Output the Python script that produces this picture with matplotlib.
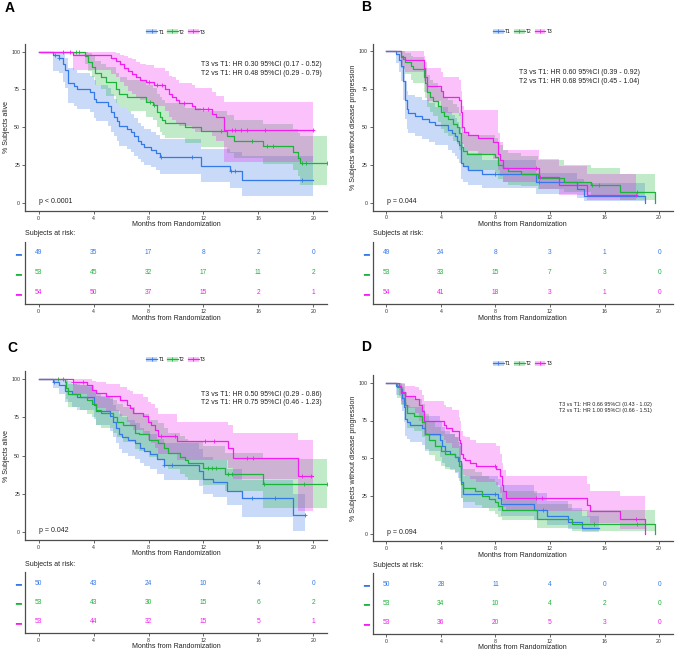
import numpy as np
import matplotlib
matplotlib.use("Agg")
import matplotlib.pyplot as plt
from matplotlib.patches import Patch
from matplotlib.lines import Line2D

plt.rcParams['font.family'] = ['Liberation Sans', 'DejaVu Sans']

groups = ["T1", "T2", "T3"]
colors = ["#3479E8", "#1DB33A", "#F21DF0"]
risk_times = [0, 4, 8, 12, 16, 20]

# ---------------- Panel A (overall survival) ----------------
A_T1_t = [0, 1.05, 1.5, 1.8, 1.95, 2.15, 2.55, 2.8, 3.7, 4.0, 4.2, 5.05, 5.3, 5.5, 5.7, 5.85, 6.4, 6.7, 6.95, 7.2, 7.45, 7.7, 8.2, 8.55, 8.8, 11.85, 13.9, 14.8, 20.0]
A_T1_s = [100, 98, 96, 92, 88, 79, 77, 75, 73, 69, 66.6, 64, 60, 57, 54, 51, 49, 47, 44, 41, 39, 37, 35, 33, 30.5, 24.5, 21, 15.5, 15.5]
A_T1_lo = [100, 87, 86, 80, 76, 66, 64, 62, 60, 56, 54, 51, 47, 44, 41, 38, 36, 34, 31, 29, 27, 25, 24, 22, 19, 14, 10, 5, 5]
A_T1_hi = [100, 100, 100, 99, 96, 89, 88, 86, 84, 81, 78, 76, 72, 69, 66, 63, 61, 59, 56, 53, 51, 49, 47, 45, 42, 36, 34, 31, 31]
A_T1_c = [1.2, 1.5, 8.9, 11.2, 14.0, 14.3, 19.2]

A_T2_t = [0, 3.35, 3.6, 3.85, 4.1, 4.5, 4.9, 5.65, 5.85, 6.4, 7.85, 8.3, 8.65, 8.85, 9.0, 9.2, 10.65, 11.85, 13.7, 14.2, 16.35, 18.55, 18.9, 19.05, 21.0]
A_T2_s = [100, 97, 93, 90, 86, 83, 80, 75, 72, 70, 67, 65, 60, 57, 55, 53, 50, 47.5, 44, 41, 37.5, 34, 30, 26.7, 26.7]
A_T2_lo = [100, 92, 87, 83, 78, 75, 71, 66, 63, 61, 57, 55, 50, 47, 45, 43, 40, 37, 33, 30, 26, 22, 18, 12, 12]
A_T2_hi = [100, 100, 99, 97, 94, 92, 90, 86, 83, 81, 78, 76, 72, 70, 68, 66, 63, 61, 58, 55, 52, 49, 46, 44, 44]
A_T2_c = [2.75, 2.95, 8.1, 8.4, 13.3, 15.5, 16.6, 17.1, 19.2, 19.5, 21.0]

A_T3_t = [0, 2.5, 5.3, 5.6, 5.9, 6.2, 6.5, 6.8, 7.1, 7.4, 7.8, 8.4, 9.2, 9.5, 9.7, 10.0, 10.2, 11.2, 11.4, 12.6, 12.9, 13.5, 20.0]
A_T3_s = [100, 98, 96, 94, 92, 89, 87, 85, 83, 81, 80, 78, 75.5, 72, 70, 68, 66, 64, 62, 59, 56.5, 48.5, 48.5]
A_T3_lo = [100, 88, 85, 83, 80, 77, 74, 72, 70, 68, 66, 64, 61, 57, 55, 53, 51, 49, 47, 44, 41, 27, 27]
A_T3_hi = [100, 100, 100, 99, 98, 97, 96, 95, 93, 92, 91, 89, 87, 84, 83, 81, 79, 78, 76, 73, 71, 67, 67]
A_T3_c = [1.75, 2.25, 8.0, 8.6, 9.0, 10.6, 12.0, 12.3, 14.1, 14.3, 14.7, 15.2, 16.5, 20.0]

A_risk = [[49, 35, 17, 8, 2, 0], [53, 45, 32, 17, 11, 2], [54, 50, 37, 15, 2, 1]]
A_hr = ["T3 vs T1: HR 0.30 95%CI (0.17 - 0.52)", "T2 vs T1: HR 0.48 95%CI (0.29 - 0.79)"]
A_p = "p < 0.0001"

# ---------------- Panel B (progression-free) ----------------
B_T1_t = [0, 0.7, 0.9, 1.05, 1.2, 1.35, 1.5, 1.6, 2.1, 2.65, 3.15, 3.6, 4.55, 4.8, 5.0, 5.2, 5.35, 5.5, 5.65, 6.0, 7.0, 11.0, 14.0, 14.5, 19.0]
B_T1_s = [100, 98, 94, 90, 80, 68, 62, 59, 57, 55, 53, 51, 48, 46, 44, 41, 38, 26, 24, 22, 19, 14, 9, 4.5, 0]
B_T1_lo = [100, 92, 86, 80, 68, 55, 49, 46, 44, 42, 40, 38, 35, 33, 31, 29, 26, 16, 14, 12, 10, 6, 3, 1, 0]
B_T1_hi = [100, 100, 100, 97, 90, 80, 74, 71, 70, 68, 66, 63, 60, 58, 56, 53, 50, 40, 36, 33, 28, 20, 16, 13, 13]
B_T1_c = [8.0, 11.2]

B_T2_t = [0, 1.05, 1.2, 1.4, 1.8, 1.95, 2.75, 2.85, 3.0, 3.2, 3.45, 3.8, 4.0, 4.2, 4.55, 4.9, 5.15, 5.35, 5.5, 5.65, 5.9, 8.0, 8.2, 8.55, 8.9, 9.9, 11.15, 13.0, 15.0, 17.1, 19.7]
B_T2_s = [100, 97, 95, 93, 90, 88, 83, 79, 73, 70, 67, 64, 60, 57, 55, 52, 50, 46, 37, 34, 32, 30, 25, 23, 21, 19, 16.5, 14, 12, 7.5, 0]
B_T2_lo = [100, 91, 88, 85, 81, 79, 73, 69, 63, 60, 57, 53, 49, 46, 44, 41, 39, 35, 26, 24, 22, 20, 16, 14, 12, 11, 9, 7, 5, 2, 0]
B_T2_hi = [100, 100, 100, 99, 97, 96, 92, 89, 84, 81, 79, 76, 73, 70, 68, 65, 63, 59, 50, 47, 45, 43, 38, 35, 33, 31, 28, 25, 23, 19, 19]
B_T2_c = [15.1, 15.6, 18.4]

B_T3_t = [0, 1.05, 1.4, 2.75, 2.85, 3.0, 4.0, 4.15, 5.3, 5.45, 5.55, 5.7, 6.0, 6.7, 7.8, 8.2, 8.35, 8.55, 11.2, 12.65, 14.7, 18.3]
B_T3_s = [100, 96, 94, 89, 83, 77, 74, 70, 68, 60, 50, 47, 45, 43, 40, 32, 28, 23, 17, 11.5, 5.5, 5.5]
B_T3_lo = [100, 89, 86, 80, 73, 67, 63, 59, 57, 49, 39, 36, 34, 32, 29, 22, 18, 14, 9, 5, 2, 2]
B_T3_hi = [100, 100, 100, 97, 93, 89, 86, 83, 81, 74, 64, 61, 61, 61, 61, 46, 40, 35, 29, 24, 19, 19]
B_T3_c = [11.0, 11.3, 18.3]

B_risk = [[49, 24, 8, 3, 1, 0], [53, 33, 15, 7, 3, 0], [54, 41, 18, 3, 1, 0]]
B_hr = ["T3 vs T1: HR 0.60 95%CI (0.39 - 0.92)", "T2 vs T1: HR 0.68 95%CI (0.45 - 1.04)"]
B_p = "p = 0.044"

# ---------------- Panel C ----------------
C_T1_t = [0, 1.05, 1.5, 1.9, 2.4, 2.8, 4.0, 4.2, 5.2, 5.4, 5.65, 5.85, 6.1, 6.5, 7.0, 7.4, 7.7, 8.1, 8.6, 9.1, 11.7, 12.0, 12.7, 13.7, 14.8, 18.55, 19.4]
C_T1_s = [100, 98, 96, 92, 90, 88, 83, 79, 76, 72, 68, 64, 62, 60, 58, 55, 53, 51, 48, 44, 40, 35, 33, 27, 22.5, 11.5, 11.5]
C_T1_lo = [100, 94, 90, 85, 82, 80, 74, 70, 66, 62, 58, 54, 52, 50, 48, 45, 43, 41, 38, 34, 30, 25, 23, 18, 10, 1, 1]
C_T1_hi = [100, 100, 100, 99, 97, 96, 92, 89, 87, 83, 80, 77, 75, 73, 71, 68, 66, 64, 61, 58, 54, 49, 47, 41, 34, 25, 25]
C_T1_c = [1.1, 9.1, 9.7, 15.5, 17.2, 19.4]

C_T2_t = [0, 1.9, 2.0, 2.15, 3.0, 3.5, 3.9, 4.2, 4.5, 5.4, 5.7, 6.15, 7.0, 7.3, 8.0, 8.7, 9.1, 9.4, 10.3, 10.65, 10.9, 12.0, 13.55, 16.35, 21.0]
C_T2_s = [100, 98, 94, 90, 88, 86, 84, 80, 78, 75, 72, 70, 65, 64, 60, 58, 55, 52, 49, 47, 45, 42, 38, 31.5, 31.5]
C_T2_lo = [100, 93, 87, 82, 80, 77, 75, 70, 68, 65, 62, 59, 54, 53, 49, 47, 44, 41, 38, 36, 34, 31, 27, 16, 16]
C_T2_hi = [100, 100, 100, 97, 96, 95, 93, 90, 88, 86, 84, 82, 78, 77, 73, 71, 68, 65, 63, 61, 59, 56, 52, 48, 48]
C_T2_c = [1.4, 1.75, 12.3, 12.6, 12.9, 13.8, 14.1, 16.4, 19.3, 21.0]

C_T3_t = [0, 2.5, 3.5, 3.85, 4.2, 4.9, 5.9, 6.4, 6.65, 6.9, 7.6, 7.95, 8.2, 8.45, 8.7, 10.05, 13.8, 14.15, 18.9, 20.0]
C_T3_s = [100, 98, 96, 93, 91, 89, 86, 83, 81, 78, 76, 72, 70, 67, 63, 59.5, 55, 48.5, 36.5, 36.5]
C_T3_lo = [100, 90, 87, 84, 81, 79, 76, 72, 70, 67, 64, 60, 58, 55, 51, 47, 42, 35, 14, 14]
C_T3_hi = [100, 100, 100, 99, 98, 97, 95, 93, 92, 90, 88, 85, 84, 81, 77, 72, 70, 65, 60, 60]
C_T3_c = [2.5, 3.2, 8.9, 9.9, 12.1, 12.8, 15.2, 15.6, 19.2, 19.8]

C_risk = [[50, 43, 24, 10, 4, 0], [53, 43, 30, 15, 6, 2], [53, 44, 32, 15, 5, 1]]
C_hr = ["T3 vs T1: HR 0.50 95%CI (0.29 - 0.86)", "T2 vs T1: HR 0.75 95%CI (0.46 - 1.23)"]
C_p = "p = 0.042"

# ---------------- Panel D ----------------
D_T1_t = [0, 0.7, 1.05, 1.15, 1.3, 1.4, 1.5, 1.75, 2.6, 2.8, 3.95, 4.1, 4.3, 4.65, 5.0, 5.25, 5.45, 5.65, 8.2, 8.4, 10.85, 11.8, 13.3, 14.35, 15.6]
D_T1_s = [100, 98, 96, 90, 84, 76, 74, 72, 70, 66, 62, 58, 55, 53, 51, 48, 34, 26, 24, 20, 16, 12, 8, 4, 4]
D_T1_lo = [100, 92, 88, 81, 74, 65, 63, 61, 59, 55, 51, 47, 44, 42, 40, 37, 24, 17, 15, 12, 9, 6, 3, 1, 1]
D_T1_hi = [100, 100, 100, 97, 93, 87, 85, 84, 82, 78, 75, 71, 68, 66, 64, 61, 47, 38, 36, 32, 27, 22, 17, 12, 12]
D_T1_c = [8.0, 11.5]

D_T2_t = [0, 0.8, 1.05, 1.4, 1.5, 2.0, 2.65, 2.8, 3.1, 3.6, 4.0, 4.3, 5.0, 5.3, 5.45, 5.6, 6.5, 7.0, 7.5, 7.95, 8.2, 8.45, 11.05, 13.6, 19.7]
D_T2_s = [100, 97, 93, 85, 80, 78, 74, 66, 62, 58, 55, 53, 51, 45, 33, 30, 28, 25, 23, 21, 18.5, 16, 9.5, 6.5, 0]
D_T2_lo = [100, 90, 85, 76, 70, 68, 64, 56, 52, 48, 45, 43, 41, 35, 24, 21, 19, 17, 15, 13, 11, 9, 4, 2, 0]
D_T2_hi = [100, 100, 99, 94, 91, 89, 86, 79, 75, 71, 68, 66, 64, 58, 46, 43, 41, 38, 36, 34, 31, 28, 20, 16, 16]
D_T2_c = [15.2, 18.4]

D_T3_t = [0, 0.9, 1.05, 1.4, 2.1, 2.4, 2.65, 2.75, 4.2, 4.4, 4.85, 5.3, 5.4, 5.5, 5.6, 5.75, 6.1, 6.6, 8.05, 8.3, 8.45, 8.55, 8.8, 14.7, 14.9, 17.1, 18.95]
D_T3_s = [100, 98, 94, 91, 89, 85, 81, 75, 72, 70, 68, 62, 60, 53, 50, 49, 47, 45, 43, 38, 32, 28, 24, 19, 15, 10, 0]
D_T3_lo = [100, 91, 86, 83, 80, 75, 71, 65, 62, 60, 57, 51, 49, 42, 39, 38, 36, 34, 32, 27, 22, 18, 15, 11, 7, 3, 0]
D_T3_hi = [100, 100, 100, 98, 97, 95, 92, 88, 85, 84, 82, 77, 75, 68, 65, 64, 62, 60, 58, 53, 47, 42, 38, 33, 28, 25, 25]
D_T3_c = [8.0, 11.0, 11.4, 18.3]

D_risk = [[50, 28, 11, 4, 0, 0], [53, 34, 10, 4, 2, 0], [53, 36, 20, 5, 3, 0]]
D_hr = ["T3 vs T1: HR 0.66 95%CI (0.43 - 1.02)", "T2 vs T1: HR 1.00 95%CI (0.66 - 1.51)"]
D_p = "p = 0.094"

AXC = "#4d4d4d"


def style_axis(ax):
    for side in ("top", "right"):
        ax.spines[side].set_visible(False)
    for side in ("left", "bottom"):
        ax.spines[side].set_color(AXC)
        ax.spines[side].set_linewidth(0.9)
    ax.tick_params(colors=AXC, labelcolor="#333333", labelsize=3.8, length=2, width=0.6, pad=1.5)
    ax.set_xlim(-1, 21)
    ax.set_xticks(risk_times)
    ax.set_xlabel("Months from Randomization", fontsize=5, labelpad=0.5, color="#222222")


def draw_panel(ax, tab, curves, risk, hr, p, ylabel, letter, letter_xy, hr_xy, hr_size):
    for (t, s, lo, hi, cens), color in zip(curves, colors):
        ax.fill_between(t, lo, hi, step="post", color=color, alpha=0.27, lw=0)
    for (t, s, lo, hi, cens), color in zip(curves, colors):
        t = np.asarray(t)
        s = np.asarray(s)
        ax.step(t, s, where="post", color=color, lw=0.9)
        idx = np.searchsorted(t, cens, side="right") - 1
        ax.plot(cens, s[idx], "+", color=color, ms=2.5, mew=0.6)
    style_axis(ax)
    ax.set_ylim(-5, 105)
    ax.set_yticks([0, 25, 50, 75, 100])
    ax.set_ylabel(ylabel, fontsize=5, labelpad=1, color="#222222")
    x, y = hr_xy
    ax.text(x, y, hr[0] + "\n" + hr[1], ha="right", va="top", fontsize=hr_size,
            color="#222222", linespacing=1.3)
    ax.text(0.05, 1.0, p, ha="left", va="center", fontsize=5, color="#222222")
    ax.text(letter_xy[0], letter_xy[1], letter, transform=ax.transAxes, fontsize=10,
            fontweight="bold", ha="left", va="center")

    handles = [(Patch(facecolor=c, alpha=0.27, lw=0),
                Line2D([], [], color=c, marker="+", lw=0.9, ms=2.5, mew=0.6)) for c in colors]
    ax.legend(handles, groups, loc="lower center", bbox_to_anchor=(0.5, 1.045), ncol=3,
              frameon=False, fontsize=3.5, handlelength=2.2, handleheight=1.2,
              columnspacing=0.6, handletextpad=0.3, borderaxespad=0)

    # risk table
    style_axis(tab)
    tab.set_ylim(0.45, 3.55)
    tab.set_yticks([3, 2, 1])
    tab.set_yticklabels(["━", "━", "━"], fontsize=7, family="DejaVu Sans")
    tab.tick_params(axis="y", length=0, pad=3)
    for lab, c in zip(tab.get_yticklabels(), colors):
        lab.set_color(c)
    for i, (vals, color) in enumerate(zip(risk, colors)):
        for xt, v in zip(risk_times, vals):
            tab.text(xt, 3 - i, str(v), ha="center", va="center", fontsize=4.8, color=color)
    tab.text(0, 1.13, "Subjects at risk:", transform=tab.transAxes, ha="left",
             va="center", fontsize=5, color="#222222")


fig = plt.figure(figsize=(6.76, 6.5), dpi=100)

W, H = 676, 650


def rect(left, right, top, bottom):
    return [left / W, 1 - bottom / H, (right - left) / W, (bottom - top) / H]


axA = fig.add_axes(rect(25, 327, 44, 210.7))
tabA = fig.add_axes(rect(25, 327, 242, 304))
axB = fig.add_axes(rect(372.7, 672.7, 43.5, 210.5))
tabB = fig.add_axes(rect(372.7, 672.7, 242, 304))
axC = fig.add_axes(rect(25, 327, 371.4, 539.8))
tabC = fig.add_axes(rect(25, 327, 572.3, 632.7))
axD = fig.add_axes(rect(372.7, 672.7, 375.2, 541.3))
tabD = fig.add_axes(rect(372.7, 672.7, 573.3, 633.7))

draw_panel(axA, tabA,
           [(A_T1_t, A_T1_s, A_T1_lo, A_T1_hi, A_T1_c),
            (A_T2_t, A_T2_s, A_T2_lo, A_T2_hi, A_T2_c),
            (A_T3_t, A_T3_s, A_T3_lo, A_T3_hi, A_T3_c)],
           A_risk, A_hr, A_p, "% Subjects alive", "A", (-0.066, 1.217), (20.6, 93.5), 5)
draw_panel(axB, tabB,
           [(B_T1_t, B_T1_s, B_T1_lo, B_T1_hi, B_T1_c),
            (B_T2_t, B_T2_s, B_T2_lo, B_T2_hi, B_T2_c),
            (B_T3_t, B_T3_s, B_T3_lo, B_T3_hi, B_T3_c)],
           B_risk, B_hr, B_p, "% Subjects without disease progression", "B", (-0.039, 1.217), (18.6, 88), 5)
draw_panel(axC, tabC,
           [(C_T1_t, C_T1_s, C_T1_lo, C_T1_hi, C_T1_c),
            (C_T2_t, C_T2_s, C_T2_lo, C_T2_hi, C_T2_c),
            (C_T3_t, C_T3_s, C_T3_lo, C_T3_hi, C_T3_c)],
           C_risk, C_hr, C_p, "% Subjects alive", "C", (-0.06, 1.137), (20.6, 92.5), 5)
draw_panel(axD, tabD,
           [(D_T1_t, D_T1_s, D_T1_lo, D_T1_hi, D_T1_c),
            (D_T2_t, D_T2_s, D_T2_lo, D_T2_hi, D_T2_c),
            (D_T3_t, D_T3_s, D_T3_lo, D_T3_hi, D_T3_c)],
           D_risk, D_hr, D_p, "% Subjects without disease progression", "D", (-0.039, 1.167), (19.5, 87.5), 3.9)

fig.savefig("out.png", dpi=100)
